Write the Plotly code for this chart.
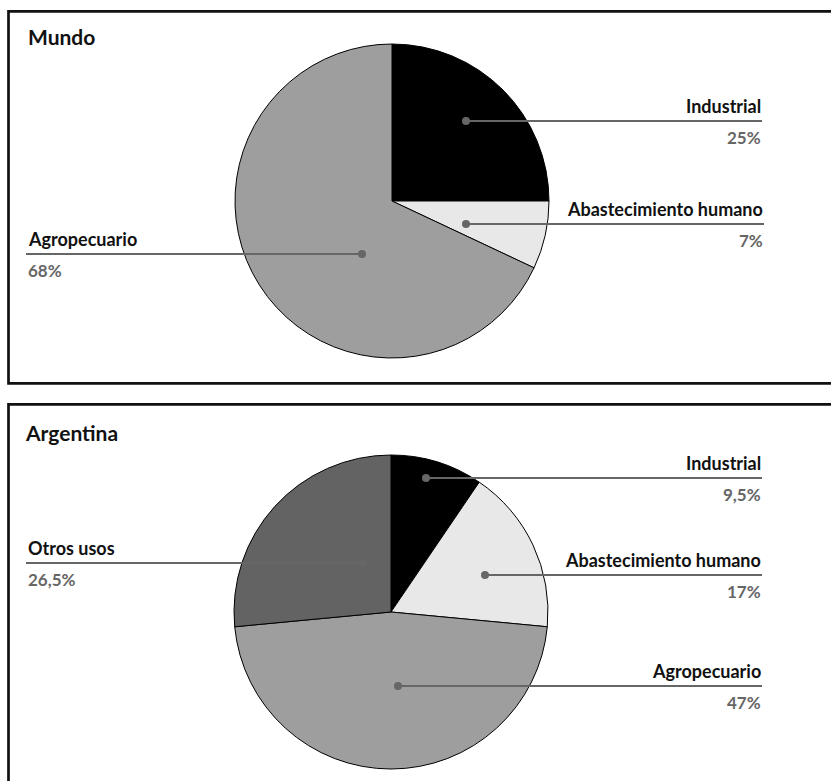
import plotly.graph_objects as go

W, H = 831, 781

# ---- data ----
mundo_labels = ["Industrial", "Abastecimiento humano", "Agropecuario"]
mundo_values = [25, 7, 68]
mundo_pct = ["25%", "7%", "68%"]

arg_labels = ["Industrial", "Abastecimiento humano", "Agropecuario", "Otros usos"]
arg_values = [9.5, 17, 47, 26.5]
arg_pct = ["9,5%", "17%", "47%", "26,5%"]

color_map = {
    "Industrial": "#000000",
    "Abastecimiento humano": "#e8e8e8",
    "Agropecuario": "#9e9e9e",
    "Otros usos": "#636363",
}

FONT = "Lato"
GRAY = "#666666"


def px(x):
    return x / W


def py(y):
    return 1 - y / H


def domain(cx, cy, r):
    return dict(x=[px(cx - r), px(cx + r)], y=[py(cy + r), py(cy - r)])


fig = go.Figure()
fig.add_trace(go.Pie(
    labels=mundo_labels, values=mundo_values, sort=False,
    direction="clockwise", rotation=0, textinfo="none",
    marker=dict(colors=[color_map[l] for l in mundo_labels],
                line=dict(color="#000000", width=1)),
    domain=domain(392, 201, 157), showlegend=False, name="Mundo",
))
fig.add_trace(go.Pie(
    labels=arg_labels, values=arg_values, sort=False,
    direction="clockwise", rotation=0, textinfo="none",
    marker=dict(colors=[color_map[l] for l in arg_labels],
                line=dict(color="#000000", width=1)),
    domain=domain(391, 612, 157), showlegend=False, name="Argentina",
))

shapes = []
annotations = []

# panel borders
for (x0, y0, x1, y1) in [(8.5, 11.3, 840, 383.3), (8.5, 404.3, 840, 790)]:
    shapes.append(dict(type="rect", xref="paper", yref="paper",
                       x0=px(x0), x1=px(x1), y0=py(y1), y1=py(y0),
                       line=dict(color="#111111", width=2.7),
                       fillcolor="rgba(0,0,0,0)", layer="below"))

# titles
for title, (tx, ty) in [("Mundo", (26, 36)), ("Argentina", (23, 432))]:
    annotations.append(dict(text="<b>%s</b>" % title, x=px(tx), y=py(ty),
                            xref="paper", yref="paper", xanchor="left",
                            yanchor="middle", showarrow=False,
                            font=dict(family=FONT, size=21, color="#111111")))

# callouts: (label, pct, dot x, dot y, line-end x, side)
callouts = [
    (mundo_labels[0], mundo_pct[0], 466, 121, 762, "right"),
    (mundo_labels[1], mundo_pct[1], 466, 224, 764, "right"),
    (mundo_labels[2], mundo_pct[2], 362, 254, 26, "left"),
    (arg_labels[0], arg_pct[0], 426, 478, 762, "right"),
    (arg_labels[1], arg_pct[1], 485, 575, 762, "right"),
    (arg_labels[2], arg_pct[2], 398, 686, 762, "right"),
    (arg_labels[3], arg_pct[3], 362, 563, 26, "left"),
]

for lab, pct, dx, dy, ex, side in callouts:
    shapes.append(dict(type="line", xref="paper", yref="paper",
                       x0=px(dx), x1=px(ex), y0=py(dy), y1=py(dy),
                       line=dict(color=GRAY, width=2)))
    shapes.append(dict(type="circle", xref="paper", yref="paper",
                       x0=px(dx - 4), x1=px(dx + 4), y0=py(dy + 4), y1=py(dy - 4),
                       fillcolor=GRAY, line=dict(color=GRAY, width=0)))
    anchor = "right" if side == "right" else "left"
    tx = ex + (1 if side == "right" else 0)
    annotations.append(dict(text="<b>%s</b>" % lab, x=px(tx), y=py(dy - 2),
                            xref="paper", yref="paper", xanchor=anchor,
                            yanchor="bottom", showarrow=False,
                            font=dict(family=FONT, size=18, color="#111111")))
    annotations.append(dict(text="<b>%s</b>" % pct, x=px(tx), y=py(dy + 4),
                            xref="paper", yref="paper", xanchor=anchor,
                            yanchor="top", showarrow=False,
                            font=dict(family=FONT, size=17, color=GRAY)))

fig.update_layout(
    width=W, height=H,
    margin=dict(l=0, r=0, t=0, b=0),
    paper_bgcolor="white", plot_bgcolor="white",
    shapes=shapes, annotations=annotations,
    font=dict(family=FONT),
)

fig.write_html("out.html")
